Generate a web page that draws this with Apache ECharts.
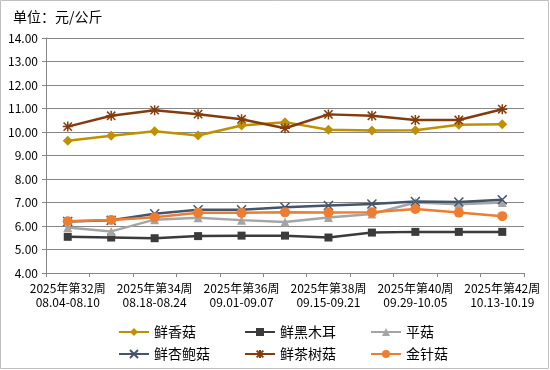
<!DOCTYPE html>
<html><head><meta charset="utf-8">
<script src="https://cdn.jsdelivr.net/npm/echarts@6/dist/echarts.min.js"></script>
<style>html,body{margin:0;padding:0;background:#fff}#c{width:550px;height:370px;box-sizing:border-box}</style>
</head><body><div id="c"></div>
<script>
var weeks = ['2025年第32周','2025年第33周','2025年第34周','2025年第35周','2025年第36周','2025年第37周','2025年第38周','2025年第39周','2025年第40周','2025年第41周','2025年第42周'];
var dateRanges = ['08.04-08.10','08.11-08.17','08.18-08.24','08.25-08.31','09.01-09.07','09.08-09.14','09.15-09.21','09.22-09.28','09.29-10.05','10.06-10.12','10.13-10.19'];
var seriesNames = ['鲜香菇','鲜黑木耳','平菇','鲜杏鲍菇','鲜茶树菇','金针菇'];
var xianxianggu = [9.63, 9.84, 10.03, 9.85, 10.28, 10.42, 10.10, 10.06, 10.07, 10.31, 10.33];
var heimuer     = [5.54, 5.51, 5.48, 5.57, 5.59, 5.59, 5.51, 5.72, 5.75, 5.75, 5.75];
var pinggu      = [5.94, 5.77, 6.27, 6.35, 6.25, 6.17, 6.36, 6.51, 7.00, 6.93, 7.00];
var xingbaogu   = [6.19, 6.24, 6.52, 6.69, 6.69, 6.80, 6.87, 6.94, 7.04, 7.02, 7.12];
var chashugu    = [10.23, 10.69, 10.93, 10.76, 10.54, 10.16, 10.75, 10.69, 10.51, 10.51, 10.97];
var jinzhengu   = [6.20, 6.26, 6.37, 6.56, 6.56, 6.58, 6.57, 6.58, 6.72, 6.57, 6.42];
var yMin = 4, yMax = 14, yInterval = 1;

var categories = weeks.map(function(w,i){return w + '\n' + dateRanges[i];});
var colors = ['#BF9000','#3B3B3B','#A5A5A5','#44546A','#843C0C','#ED7D31'];
var symbols = ['diamond','rect','triangle','path://M0,0L10,10M10,0L0,10','path://M0,0L10,10M10,0L0,10M5,-1L5,11M-1,5L11,5','circle'];
var sizes = [10, 8, 9, 9, 10, 10];
var dataArr = [xianxianggu, heimuer, pinggu, xingbaogu, chashugu, jinzhengu];
var FONT = '"Noto Sans CJK SC", "DejaVu Sans", sans-serif';

var series = seriesNames.map(function(n,i){
  var stroke = (i===3||i===4);
  return {
    name:n, type:'line', data:dataArr[i], symbol:symbols[i], symbolSize:sizes[i],
    showAllSymbol:true,
    lineStyle:{width:2.5,color:colors[i]},
    itemStyle:{color:colors[i], borderColor:colors[i], borderWidth: stroke?1.5:0},
    emphasis:{disabled:true}, animation:false
  };
});

var legendPos = [[113,320],[239,320],[365,320],[113,342],[239,342],[365,342]];
var legends = seriesNames.map(function(n,i){
  return {data:[n], left:legendPos[i][0], top:legendPos[i][1], itemWidth:30, itemHeight:10, itemGap:0,
    textStyle:{fontFamily:FONT,fontSize:14,color:'#000'}, selectedMode:false};
});

var chart = echarts.init(document.getElementById('c'));
chart.setOption({
  backgroundColor:'#fff',
  color:colors,
  animation:false,
  title:{text:'单位：元/公斤', left:8, top:5, textStyle:{fontFamily:FONT,fontSize:14,fontWeight:'normal',color:'#000'}},
  legend:legends,
  grid:{left:46, right:26, top:38, bottom:97, containLabel:false},
  xAxis:{type:'category', data:categories, boundaryGap:true,
    axisLine:{lineStyle:{color:'#868686',width:1}},
    axisTick:{show:true, interval:0, length:4, lineStyle:{color:'#868686'}},
    axisLabel:{interval:1, color:'#000', fontFamily:FONT, fontSize:12, lineHeight:14, margin:8}
  },
  yAxis:{type:'value', min:yMin, max:yMax, interval:yInterval,
    axisLine:{show:true, lineStyle:{color:'#868686'}},
    axisTick:{show:true, length:4, lineStyle:{color:'#868686'}},
    splitLine:{lineStyle:{color:'#868686',width:1}},
    axisLabel:{formatter:function(v){return v.toFixed(2);}, color:'#000', fontFamily:FONT, fontSize:12, margin:8}
  },
  graphic:[{type:'rect', shape:{x:0.5,y:0.5,width:548,height:368}, style:{fill:null, stroke:'#BFBFBF', lineWidth:1}, silent:true}],
  series:series
});
</script></body></html>
